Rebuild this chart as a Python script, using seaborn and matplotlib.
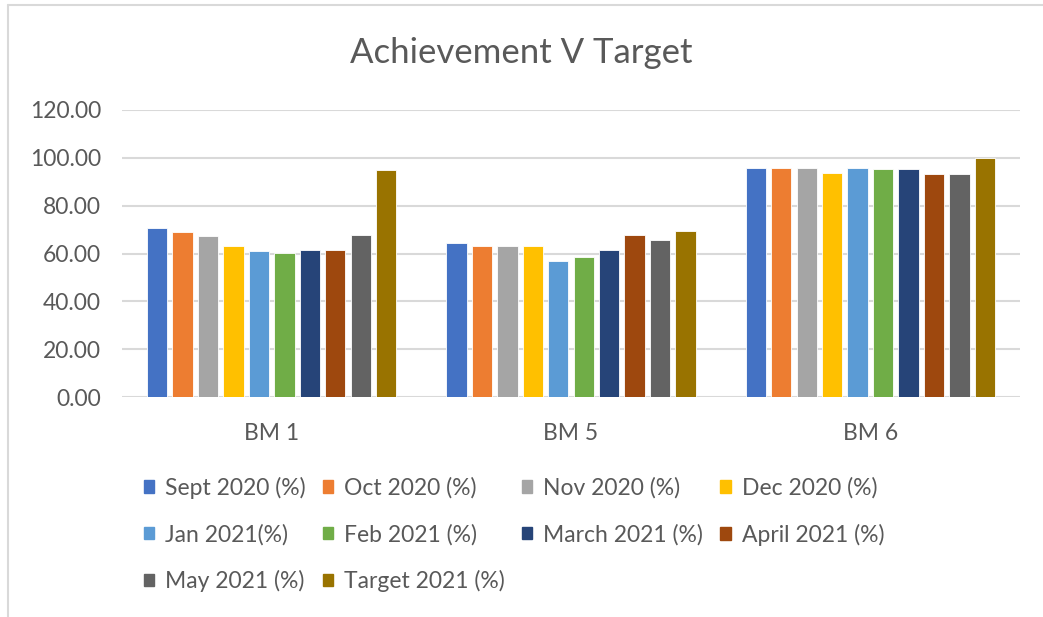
import numpy as np
import pandas as pd
import matplotlib.pyplot as plt
import seaborn as sns
from matplotlib.lines import Line2D

# data
groups = ["BM 1", "BM 5", "BM 6"]
series = ["Sept 2020 (%)", "Oct 2020 (%)", "Nov 2020 (%)", "Dec 2020 (%)",
          "Jan 2021(%)", "Feb 2021 (%)", "March 2021 (%)", "April 2021 (%)",
          "May 2021 (%)", "Target 2021 (%)"]
bm1 = [70.7, 69.0, 67.2, 63.1, 60.9, 60.3, 61.6, 61.6, 67.7, 94.8]
bm5 = [64.4, 63.3, 63.3, 63.3, 57.0, 58.7, 61.6, 67.9, 65.5, 69.5]
bm6 = [95.9, 95.9, 95.9, 93.6, 95.9, 95.2, 95.2, 93.1, 93.1, 100.0]
colors = ["#4472C4", "#ED7D31", "#A5A5A5", "#FFC000", "#5B9BD5",
          "#70AD47", "#264478", "#9E480E", "#636363", "#997300"]

rows = []
for g, vals in zip(groups, [bm1, bm5, bm6]):
    for s, v in zip(series, vals):
        rows.append({"group": g, "series": s, "value": v})
df = pd.DataFrame(rows)

sns.set_style("white")
plt.rcParams['font.family'] = ['Lato', 'DejaVu Sans']
text_col = "#595959"

fig = plt.figure(figsize=(10.43, 6.17), dpi=100)
ax = fig.add_axes([122/1043, 1-397/617, (1020-122)/1043, (397-110)/617])

sns.barplot(data=df, x="group", y="value", hue="series", hue_order=series,
            palette=colors, saturation=1, width=0.85, gap=0.2, ax=ax,
            edgecolor="white", linewidth=0.6, legend=False)

ax.set_ylim(0, 120)
ax.set_xlim(-0.5, 2.5)
ax.set_yticks(np.arange(0, 121, 20))
ax.set_yticklabels([f"{v:.2f}" for v in np.arange(0, 121, 20)])
ax.yaxis.grid(True, color="#D9D9D9", linewidth=1.5)
ax.set_axisbelow(True)
for sp in ax.spines.values():
    sp.set_visible(False)
ax.tick_params(axis="both", length=0, labelsize=16.5, colors=text_col)
ax.tick_params(axis="y", pad=15)
ax.tick_params(axis="x", pad=19)
ax.set_xlabel("")
ax.set_ylabel("")

fig.text(0.5, 1-53/617, "Achievement V Target", ha="center", va="center",
         fontsize=25, color=text_col)

# legend, row-major order as in the reference
handles = [plt.Rectangle((0, 0), 1, 1, color=c) for c in colors]
order = [0, 4, 8, 1, 5, 9, 2, 6, 3, 7]
leg = fig.legend([handles[i] for i in order], [series[i] for i in order],
                 ncol=4, loc="upper left", bbox_to_anchor=(123/1043, 1-456/617),
                 frameon=False, fontsize=16.5, handlelength=0.45, handleheight=0.45,
                 handletextpad=0.48, columnspacing=0.75, labelspacing=1.09,
                 labelcolor=text_col)

# chart frame edges
fig.add_artist(Line2D([8/1043, 8/1043], [0, 1-5/617], color="#D9D9D9", lw=1.5))
fig.add_artist(Line2D([8/1043, 1], [1-5/617, 1-5/617], color="#D9D9D9", lw=1.5))

fig.savefig("out.png", dpi=100, facecolor="white")
